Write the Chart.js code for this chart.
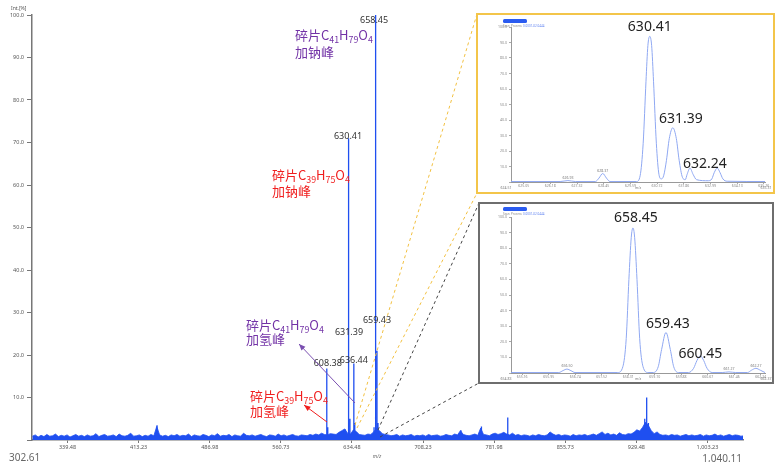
<!DOCTYPE html>
<html>
<head>
<meta charset="utf-8">
<script src="https://cdn.jsdelivr.net/npm/chart.js@4.4.1/dist/chart.umd.min.js"></script>
<style>
html, body { margin: 0; padding: 0; background: #fff; }
#wrap { position: relative; width: 775px; height: 462px; overflow: hidden; }
#main { position: absolute; left: 0; top: 0; }
.inset { position: absolute; background: #fff; box-sizing: border-box; }
#box1 { left: 476px; top: 13px; width: 299px; height: 181px; border: 2px solid #f3c54a; }
#box2 { left: 478px; top: 202px; width: 296px; height: 182px; border: 2px solid #6e6e6e; }
.inset canvas { position: absolute; left: 0; top: 0; }
</style>
</head>
<body>
<div id="wrap">
  <canvas id="main" width="775" height="462"></canvas>
  <div class="inset" id="box1"><canvas id="ins1" width="295" height="177"></canvas></div>
  <div class="inset" id="box2"><canvas id="ins2" width="292" height="178"></canvas></div>
</div>
<script>
// ---- Hauptspektrum ----
const xMin = 302.61, xMax = 1040.11;
const xTicks = [339.48, 413.23, 486.98, 560.73, 634.48, 708.23, 781.98, 855.73, 929.48, 1003.23];

const noiseStart = 303, noiseStep = 3;
const noiseInt = [
  0.9,1.2,0.7,1.1,0.8,1.3,0.9,1.0,1.4,0.8,1.1,0.9,1.2,0.7,1.0,1.3,0.9,1.1,0.8,
  1.2,0.9,1.0,1.5,0.8,1.1,1.3,0.9,1.0,1.2,0.8,1.4,1.0,0.9,1.1,1.6,0.9,1.0,1.2,
  0.8,1.1,0.9,1.3,1.0,3.2,1.2,0.9,1.1,0.8,1.2,1.0,1.3,0.9,1.1,1.0,1.4,0.8,1.2,
  1.0,0.9,1.3,1.1,0.8,1.2,1.0,1.5,0.9,1.1,1.0,1.3,0.8,1.2,1.0,0.9,1.6,1.1,1.0,
  1.2,0.9,1.1,1.3,1.0,0.8,1.2,1.1,0.9,1.4,1.0,1.2,0.9,1.1,1.3,1.0,0.9,1.2,1.1,
  1.0,1.3,1.1,1.4,1.2,1.6,1.3,1.2,1.5,1.4,1.3,1.8,2.2,2.6,1.6,1.4,2.4,2.0,1.3,
  1.2,1.1,1.4,1.3,1.9,2.8,2.2,1.5,1.3,1.2,1.0,1.1,1.3,0.9,1.2,1.0,1.1,1.3,0.9,
  1.1,1.0,1.2,0.9,1.3,1.0,1.1,1.2,0.9,1.0,1.3,1.1,1.0,1.4,1.2,2.2,1.3,1.1,1.0,
  1.2,1.4,1.1,2.8,1.3,1.2,1.0,1.4,1.6,1.3,1.5,1.8,1.4,1.2,1.6,1.1,1.3,1.0,1.2,
  1.1,0.9,1.2,1.0,1.3,1.1,1.0,1.2,1.9,1.4,1.1,1.3,1.0,1.2,1.1,0.9,1.3,1.0,1.2,
  1.1,1.3,1.0,1.2,1.4,1.1,1.5,1.9,1.3,1.6,1.2,1.4,1.1,1.7,1.3,1.2,1.5,1.4,1.8,
  2.4,2.1,3.0,4.2,3.4,2.2,1.5,1.9,1.3,1.1,1.2,1.0,1.3,1.1,1.2,0.9,1.1,1.3,1.0,
  1.2,1.0,1.1,1.3,0.9,1.2,1.0,1.1,1.4,1.0,1.2,0.9,1.1,1.3,1.0,1.2,1.1,0.9,1.0
];

// Peaks (Strichspektrum)
const peakMz  = [432.3, 608.38, 609.4, 627.6, 630.41, 631.39, 632.4, 636.44, 637.4, 657.4, 658.45, 659.43, 660.45, 661.5, 747.5, 768.8, 796.1, 938.2, 940.2, 942.0];
const peakInt = [3.5,   16.8,   3.0,   2.5,   71.0,   26.0,   5.0,   18.0,   4.0,   3.0,   100.0,  32.0,   21.0,   4.0,   2.3,   3.2,   5.3,   5.0,   10.0,  4.0];

// beschriftete Peaks
const labelText = ['658.45', '630.41', '659.43', '631.39', '608.38', '636.44'];
const labelMz   = [658.45, 630.41, 659.43, 631.39, 608.38, 636.44];
const labelInt  = [100.0, 71.0, 32.0, 26.0, 16.8, 18.0];

// Zuordnungen
const annLines = [
  ['碎片C41H79O4', '加钠峰'],
  ['碎片C39H75O4', '加钠峰'],
  ['碎片C41H79O4', '加氢峰'],
  ['碎片C39H75O4', '加氢峰']
];
const annColors = ['#7232a6', '#f01e1e', '#7232a6', '#f01e1e'];

// ---- Ausschnitte ----
const ins1Mz  = [624.51, 626.6, 626.93, 627.25, 628.1, 628.25, 628.41, 628.57, 628.72, 629.85, 630.0, 630.13, 630.25, 630.33, 630.41, 630.49, 630.57, 630.69, 630.8, 630.9, 631.0, 631.12, 631.24, 631.39, 631.54, 631.66, 631.8, 631.92, 632.0, 632.12, 632.25, 632.4, 632.9, 633.05, 633.15, 633.28, 633.4, 633.52, 633.7, 635.31];
const ins1Int = [0.3,    0.3,   0.9,    0.3,    0.3,   2.5,    5.5,    2.5,    0.3,    0.3,    4,     25,     65,     88,     94,     88,     65,     25,     5,     2,     4,     14,     28,     35,     28,     14,     3,     1.5,   5,     9,      5,      1.5,   0.8,   2,      6,      9,      6,     2,      0.5,   0.3];
const ins1Ticks = [625.05, 626.18, 627.32, 628.45, 629.59, 630.72, 631.86, 632.99, 634.13, 635.26];
const ins1Big   = ['630.41', '631.39', '632.24'];
const ins1BigMz = [630.41, 631.39, 632.24];
const ins1BigY  = [94, 35, 9];
const ins1Small = ['626.93', '628.37'];
const ins1SmallMz = [626.93, 628.41];
const ins1SmallY  = [0.9, 5.5];

const ins2Mz  = [654.83, 656.25, 656.37, 656.49, 656.61, 656.73, 658.0, 658.15, 658.25, 658.33, 658.4, 658.45, 658.5, 658.57, 658.65, 658.75, 658.9, 659.05, 659.2, 659.3, 659.43, 659.56, 659.66, 659.8, 660.1, 660.25, 660.35, 660.45, 660.55, 660.65, 660.8, 661.1, 661.3, 661.5, 661.85, 661.97, 662.1, 662.23, 662.37];
const ins2Int = [0.3,    0.3,    1.5,    2.5,    1.5,    0.3,    0.3,   4,      22,     60,     87,    93,     87,    60,     22,     4,      0.3,   0.3,    4,     15,    26,     15,     4,      0.3,   0.3,   3,      8,      11,     8,      3,      0.3,   0.3,   0.7,   0.3,   0.3,    1.8,    3,     1.8,    0.3];
const ins2Ticks = [655.16, 655.95, 656.74, 657.52, 658.31, 659.10, 659.88, 660.67, 661.46, 662.24];
const ins2Big   = ['658.45', '659.43', '660.45'];
const ins2BigMz = [658.45, 659.43, 660.45];
const ins2BigY  = [93, 26, 11];
const ins2Small = ['656.50', '661.27', '662.27'];
const ins2SmallMz = [656.49, 661.3, 662.1];
const ins2SmallY  = [2.5, 0.7, 3];

const BLUE = '#1f4ff0';
const NUM_FONT = '"Noto Sans", "Open Sans", sans-serif';
const CJK_FONT = '"Noto Sans CJK SC", "Noto Sans", sans-serif';

// Daten fuer Chart.js aufbereiten
const noiseData = noiseInt.map((v, i) => ({ x: noiseStart + i * noiseStep, y: v }));
const stickData = [];
peakMz.forEach((m, i) => {
  stickData.push({ x: m, y: 0 }, { x: m, y: peakInt[i] }, { x: m, y: 0 });
});

function fmt(v) {
  return v.toLocaleString('en-US', { minimumFractionDigits: 2, maximumFractionDigits: 2 });
}

// Formel mit tiefgestellten Ziffern zeichnen
function drawFormula(ctx, text, x, y, color, size) {
  ctx.fillStyle = color;
  ctx.textAlign = 'left';
  ctx.textBaseline = 'alphabetic';
  let cx = x;
  const parts = text.match(/\d+|\D+/g);
  parts.forEach(p => {
    const sub = /^\d+$/.test(p);
    ctx.font = (sub ? size * 0.68 : size) + 'px ' + CJK_FONT;
    ctx.fillText(p, cx, sub ? y + size * 0.25 : y);
    cx += ctx.measureText(p).width;
  });
}

function arrow(ctx, x1, y1, x2, y2, color) {
  const a = Math.atan2(y2 - y1, x2 - x1);
  ctx.strokeStyle = color;
  ctx.fillStyle = color;
  ctx.lineWidth = 1;
  ctx.beginPath();
  ctx.moveTo(x1, y1);
  ctx.lineTo(x2, y2);
  ctx.stroke();
  ctx.beginPath();
  ctx.moveTo(x2, y2);
  ctx.lineTo(x2 - 7 * Math.cos(a - 0.4), y2 - 7 * Math.sin(a - 0.4));
  ctx.lineTo(x2 - 7 * Math.cos(a + 0.4), y2 - 7 * Math.sin(a + 0.4));
  ctx.closePath();
  ctx.fill();
}

const labelOffset = [[-1, 10], [0, 3], [1, 21], [0, 7], [1, -1], [0, 1]];
const annPos = [[295, 40, 57], [272, 180, 196], [246, 330, 344], [250, 401, 416]];

const mainDecor = {
  id: 'mainDecor',
  afterDraw(chart) {
    const ctx = chart.ctx;
    const xs = chart.scales.x, ys = chart.scales.y;
    ctx.save();

    // Achsentitel
    ctx.fillStyle = '#555';
    ctx.font = '5px ' + NUM_FONT;
    ctx.textAlign = 'left';
    ctx.textBaseline = 'middle';
    ctx.fillText('Int.[%]', 11, 9);

    // Peakbeschriftungen
    ctx.fillStyle = '#333';
    ctx.font = '9px ' + NUM_FONT;
    ctx.textAlign = 'center';
    ctx.textBaseline = 'bottom';
    labelText.forEach((t, i) => {
      const px = xs.getPixelForValue(labelMz[i]) + labelOffset[i][0];
      const py = ys.getPixelForValue(labelInt[i]) + labelOffset[i][1];
      ctx.fillText(t, px, py);
    });

    // Zuordnungstexte
    annLines.forEach((lines, i) => {
      drawFormula(ctx, lines[0], annPos[i][0], annPos[i][1], annColors[i], 13);
      ctx.font = '13px ' + CJK_FONT;
      ctx.fillStyle = annColors[i];
      ctx.fillText(lines[1], annPos[i][0], annPos[i][2]);
    });
    arrow(ctx, 355, 403, 299, 344, '#7a4fb0');
    arrow(ctx, 327, 422, 304, 405, '#f01e1e');

    // gestrichelte Verbindungslinien zu den Ausschnitten
    ctx.setLineDash([3, 3]);
    ctx.lineWidth = 1;
    ctx.strokeStyle = '#f2c040';
    ctx.beginPath();
    ctx.moveTo(355, 425); ctx.lineTo(477, 14);
    ctx.moveTo(357, 428); ctx.lineTo(477, 193);
    ctx.stroke();
    ctx.strokeStyle = '#444';
    ctx.beginPath();
    ctx.moveTo(378, 430); ctx.lineTo(479, 203);
    ctx.moveTo(380, 437); ctx.lineTo(479, 383);
    ctx.stroke();
    ctx.setLineDash([]);

    // Bereichsgrenzen
    ctx.fillStyle = '#666';
    ctx.font = '10px ' + NUM_FONT;
    ctx.textBaseline = 'middle';
    ctx.textAlign = 'left';
    ctx.fillText(fmt(xMin), 9, 458);
    ctx.textAlign = 'right';
    ctx.fillText(fmt(xMax), 742, 459);
    ctx.font = 'italic 5px ' + NUM_FONT;
    ctx.textAlign = 'center';
    ctx.fillText('m/z', 377, 457);
    ctx.restore();
  }
};

new Chart(document.getElementById('main'), {
  type: 'line',
  data: {
    datasets: [
      { data: noiseData, borderColor: BLUE, backgroundColor: BLUE, borderWidth: 0.8, fill: 'origin', pointRadius: 0, tension: 0 },
      { data: stickData, borderColor: BLUE, borderWidth: 1.3, fill: false, pointRadius: 0, tension: 0 }
    ]
  },
  options: {
    responsive: false,
    animation: false,
    layout: { padding: { top: 15, right: 32, bottom: 0, left: 0 } },
    plugins: { legend: { display: false }, tooltip: { enabled: false } },
    scales: {
      x: {
        type: 'linear', min: xMin, max: xMax,
        afterBuildTicks: s => { s.ticks = xTicks.map(v => ({ value: v })); },
        afterFit: s => { s.height = 22; },
        ticks: { callback: v => fmt(v), font: { size: 5.5, family: NUM_FONT }, color: '#555', padding: 1, maxRotation: 0, autoSkip: false },
        grid: { drawOnChartArea: false, drawTicks: true, tickLength: 3, color: '#777' },
        border: { color: '#777', width: 1.5 }
      },
      y: {
        min: 0, max: 100,
        afterFit: s => { s.width = 32; },
        ticks: { stepSize: 10, callback: v => v === 0 ? '' : v.toFixed(1), font: { size: 5.5, family: NUM_FONT }, color: '#555', padding: 3 },
        grid: { drawOnChartArea: false, drawTicks: true, tickLength: 5, color: '#777' },
        border: { color: '#777', width: 1.5 }
      }
    }
  },
  plugins: [mainDecor]
});

// ---- Ausschnitt-Diagramme ----
function makeInset(id, mz, inten, ticks, big, bigMz, bigY, small, smallMz, smallY, pad, bigOff) {
  const lo = mz[0], hi = mz[mz.length - 1];
  const decor = {
    id: 'insetDecor',
    afterDraw(chart) {
      const ctx = chart.ctx;
      const xs = chart.scales.x, ys = chart.scales.y;
      ctx.save();
      // Kopfzeile
      ctx.fillStyle = '#2a5bf0';
      ctx.beginPath();
      ctx.roundRect(pad.badgeX, pad.badgeY, 24, 4, 1.5);
      ctx.fill();
      ctx.font = '3px ' + NUM_FONT;
      ctx.textAlign = 'left';
      ctx.textBaseline = 'middle';
      ctx.fillStyle = '#888';
      ctx.fillText('Scan_Process', pad.badgeX, pad.badgeY + 7);
      ctx.fillStyle = '#5b7ff0';
      ctx.fillText('0.0001-02.0444', pad.badgeX + 20, pad.badgeY + 7);
      // kleine Beschriftungen
      ctx.fillStyle = '#777';
      ctx.font = '3.5px ' + NUM_FONT;
      ctx.textAlign = 'center';
      ctx.textBaseline = 'bottom';
      small.forEach((t, i) => {
        ctx.fillText(t, xs.getPixelForValue(smallMz[i]), ys.getPixelForValue(smallY[i]) - 1);
      });
      ctx.textBaseline = 'middle';
      ctx.fillText(lo.toFixed(2), chart.chartArea.left - 5, chart.chartArea.bottom + 6);
      ctx.fillText(hi.toFixed(2), chart.chartArea.right + 1, chart.chartArea.bottom + 6);
      ctx.fillText('m/z', (chart.chartArea.left + chart.chartArea.right) / 2, chart.chartArea.bottom + 6);
      // grosse Beschriftungen
      ctx.fillStyle = '#222';
      ctx.font = '14px ' + NUM_FONT;
      ctx.textBaseline = 'bottom';
      big.forEach((t, i) => {
        ctx.fillText(t, xs.getPixelForValue(bigMz[i]) + bigOff[i][0], ys.getPixelForValue(bigY[i]) + bigOff[i][1]);
      });
      ctx.restore();
    }
  };
  return new Chart(document.getElementById(id), {
    type: 'line',
    data: {
      datasets: [{
        data: mz.map((m, i) => ({ x: m, y: inten[i] })),
        borderColor: '#8fa8f2', borderWidth: 1, pointRadius: 0, fill: false,
        cubicInterpolationMode: 'monotone'
      }]
    },
    options: {
      responsive: false,
      animation: false,
      layout: { padding: { top: pad.top, right: pad.right, bottom: 0, left: 0 } },
      plugins: { legend: { display: false }, tooltip: { enabled: false } },
      scales: {
        x: {
          type: 'linear', min: lo, max: hi,
          afterBuildTicks: s => { s.ticks = ticks.map(v => ({ value: v })); },
          afterFit: s => { s.height = pad.xh; },
          ticks: { callback: v => v.toFixed(2), font: { size: 3.5, family: NUM_FONT }, color: '#888', padding: 0, maxRotation: 0, autoSkip: false },
          grid: { drawOnChartArea: false, tickLength: 2, color: '#aaa' },
          border: { color: '#999', width: 1 }
        },
        y: {
          min: 0, max: 100,
          afterFit: s => { s.width = pad.left; },
          ticks: { stepSize: 10, callback: v => v === 0 ? '' : v.toFixed(1), font: { size: 3.5, family: NUM_FONT }, color: '#888', padding: 2 },
          grid: { drawOnChartArea: false, tickLength: 2, color: '#aaa' },
          border: { color: '#999', width: 1 }
        }
      }
    },
    plugins: [decor]
  });
}

makeInset('ins1', ins1Mz, ins1Int, ins1Ticks, ins1Big, ins1BigMz, ins1BigY, ins1Small, ins1SmallMz, ins1SmallY,
  { top: 12, right: 8, left: 33, xh: 10, badgeX: 25, badgeY: 4 },
  [[0, -2], [8, -2], [12, 3]]);
makeInset('ins2', ins2Mz, ins2Int, ins2Ticks, ins2Big, ins2BigMz, ins2BigY, ins2Small, ins2SmallMz, ins2SmallY,
  { top: 13, right: 7, left: 31, xh: 9, badgeX: 23, badgeY: 3 },
  [[3, -3], [2, -1], [0, 5]]);
</script>
</body>
</html>
